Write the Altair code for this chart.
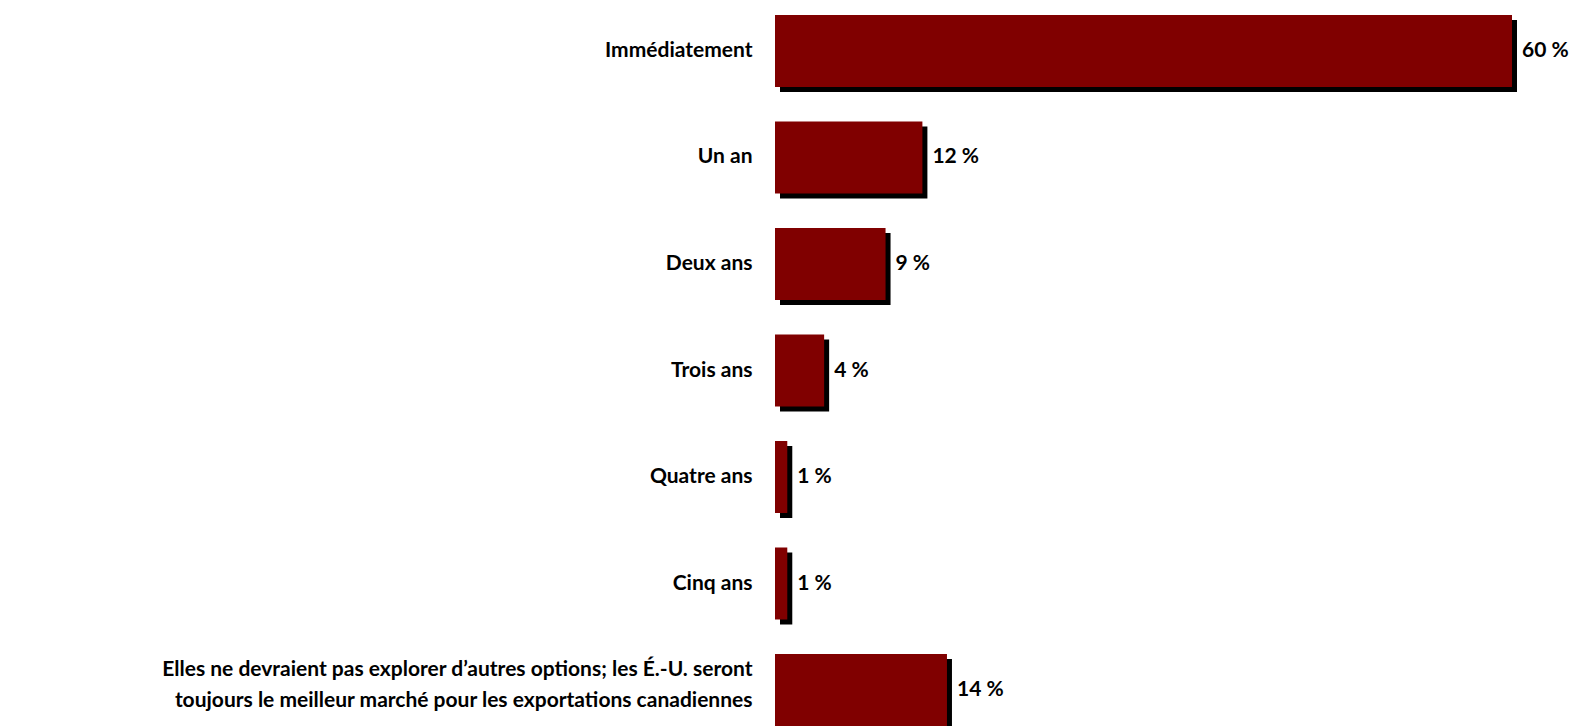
import altair as alt
import pandas as pd

categories = [
    "Immédiatement",
    "Un an",
    "Deux ans",
    "Trois ans",
    "Quatre ans",
    "Cinq ans",
    "Elles ne devraient pas explorer d’autres options; les É.-U. seront|toujours le meilleur marché pour les exportations canadiennes",
]
values = [60, 12, 9, 4, 1, 1, 14]
value_labels = ["60 %", "12 %", "9 %", "4 %", "1 %", "1 %", "14 %"]

df = pd.DataFrame({"cat": categories, "val": values, "lab": value_labels})

FONT = "Lato"
FS = 21
BAR_COLOR = "#800000"

y_enc = alt.Y(
    "cat:N",
    sort=categories,
    title=None,
    scale=alt.Scale(paddingInner=0.324, paddingOuter=0),
    axis=alt.Axis(
        labelExpr="split(datum.label, '|')",
        labelFont=FONT,
        labelFontSize=FS,
        labelFontWeight="bold",
        labelColor="#000000",
        labelLimit=800,
        labelPadding=23,
        labelLineHeight=31,
        labelOffset={
            "condition": {"test": "indexof(datum.value, '|') >= 0", "value": -20},
            "value": 0,
        },
        ticks=False,
        domain=False,
        grid=False,
    ),
)
x_enc = alt.X(
    "val:Q",
    title=None,
    scale=alt.Scale(domain=[0, 60], nice=False, zero=True),
    axis=None,
)

shadow = alt.Chart(df).mark_bar(
    color="#000000", xOffset=5, x2Offset=5, yOffset=5, y2Offset=5
).encode(x=x_enc, y=y_enc)

bars = alt.Chart(df).mark_bar(color=BAR_COLOR).encode(x=x_enc, y=y_enc)

text = alt.Chart(df).mark_text(
    align="left",
    baseline="middle",
    dx=10,
    font=FONT,
    fontSize=FS,
    fontWeight="bold",
    color="#000000",
).encode(x=x_enc, y=y_enc, text="lab:N")

chart = (
    alt.layer(shadow, bars, text)
    .properties(
        width=737,
        height=711,
        background="white",
        autosize=alt.AutoSizeParams(type="none"),
        padding={"left": 767, "top": 7, "right": 58, "bottom": 0},
    )
    .configure_view(strokeWidth=0, stroke=None)
)

chart.save("out.html", embed_options={"renderer": "svg", "actions": False})
